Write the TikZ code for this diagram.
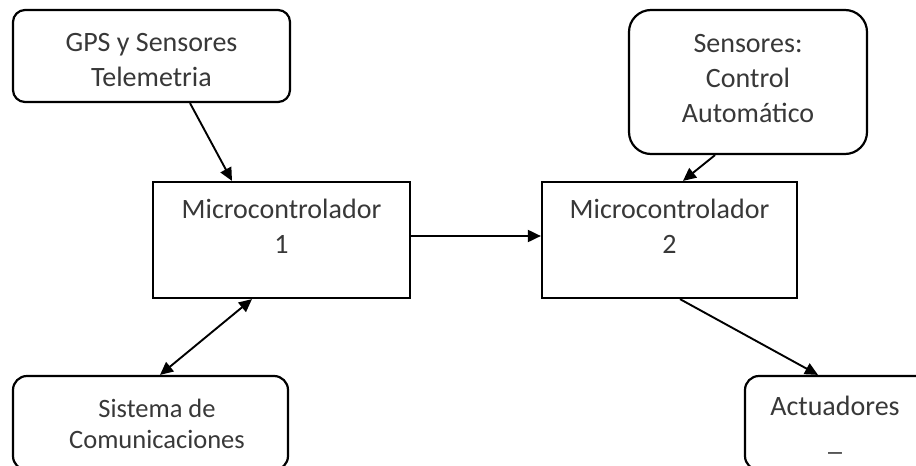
\documentclass[tikz,border=0pt]{standalone}
\usepackage{fontspec}
\setmainfont{Carlito}
\usetikzlibrary{arrows.meta}
\tikzset{
  box/.style={draw=black, line width=2.2pt, fill=white, inner sep=0pt},
  rbox/.style={box, rounded corners=#1},
  txt/.style={text=black!78, align=center, inner sep=0pt, font=\fontsize{28}{35}\selectfont},
  stxt/.style={text=black!78, align=center, inner sep=0pt, font=\fontsize{26.5}{31}\selectfont},
  arr/.style={line width=1.9pt, -{Triangle[length=13pt,width=12pt]}},
  darr/.style={line width=1.9pt, {Triangle[length=13pt,width=12pt]}-{Triangle[length=13pt,width=12pt]}}
}
\begin{document}
\begin{tikzpicture}[x=1pt,y=-1pt]
\useasboundingbox (0,0) rectangle (916,466);
\clip (0,0) rectangle (916,466);
% boxes
\node[rbox=12pt, minimum width=277pt, minimum height=92pt] (gps) at (151.5,56) {};
\node[txt] at (151.5,60) {GPS y Sensores\\Telemetria};
\node[rbox=22pt, minimum width=238pt, minimum height=144pt] (sen) at (748,82) {};
\node[txt] at (748,79) {Sensores:\\Control\\Automático};
\node[box, minimum width=257pt, minimum height=116pt] (m1) at (281.5,240) {};
\node[txt, anchor=base] at (281.5,253) {Microcontrolador\\1};
\node[box, minimum width=255pt, minimum height=116pt] (m2) at (669.5,240) {};
\node[txt, anchor=base] at (669.5,253) {Microcontrolador\\2};
\node[rbox=14pt, minimum width=275pt, minimum height=94pt] (sis) at (150.5,423) {};
\node[stxt] at (157,424) {Sistema de\\Comunicaciones};
\node[rbox=14pt, minimum width=185pt, minimum height=94pt] (act) at (837.5,423) {};
\node[txt, anchor=base] at (835,450) {Actuadores\\\_};
% connectors
\draw[arr] ([xshift=38.5pt]gps.south) -- ([xshift=-49.5pt]m1.north);
\draw[arr] ([xshift=-33pt]sen.south) -- ([xshift=13.5pt]m2.north);
\draw[arr] ([yshift=4pt]m1.east) -- ([yshift=4pt]m2.west);
\draw[darr] ([xshift=9.5pt]sis.north) -- ([xshift=-29.5pt]m1.south);
\draw[arr] ([xshift=10.5pt]m2.south) -- ([xshift=-19.5pt]act.north);
\end{tikzpicture}
\end{document}
